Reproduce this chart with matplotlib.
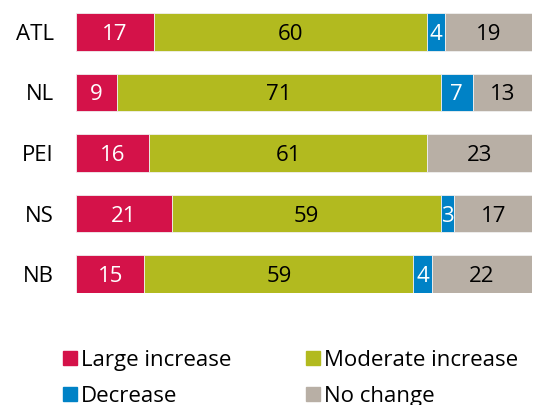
import matplotlib.pyplot as plt
from matplotlib.patches import Rectangle

regions = ["ATL", "NL", "PEI", "NS", "NB"]
series = ["Large increase", "Moderate increase", "Decrease", "No change"]
large_increase = [17, 9, 16, 21, 15]
moderate_increase = [60, 71, 61, 59, 59]
decrease = [4, 7, 0, 3, 4]
no_change = [19, 13, 23, 17, 22]

colors = ["#D41249", "#B2BA1F", "#0082C6", "#B8AFA5"]
text_colors = ["white", "black", "white", "black"]
FONT_SIZE = 16

plt.rcParams["font.family"] = ["Open Sans", "DejaVu Sans"]

fig = plt.figure(figsize=(5.53, 4.05), dpi=100)
ax = fig.add_axes([76 / 553, (405 - 293) / 405, 456 / 553, 280 / 405])

bar_h = 0.627
left = [0] * len(regions)
for name, vals, col, tcol in zip(series, [large_increase, moderate_increase, decrease, no_change], colors, text_colors):
    ax.barh(range(len(regions)), vals, left=left, height=bar_h, color=col,
            edgecolor="#f0f0f0", linewidth=0.6, label=name)
    for i, v in enumerate(vals):
        if v > 0:
            ax.text(left[i] + v / 2, i, str(v), ha="center", va="center_baseline",
                    color=tcol, fontsize=FONT_SIZE)
    left = [l + v for l, v in zip(left, vals)]

ax.set_xlim(0, 100)
ax.set_ylim(len(regions) - 1 + bar_h / 2, -bar_h / 2)
ax.set_yticks(range(len(regions)))
ax.set_yticklabels(regions, fontsize=FONT_SIZE)
ax.tick_params(axis="y", length=0, pad=16)
ax.set_xticks([])
for s in ax.spines.values():
    s.set_visible(False)

# legend, drawn by hand
legend_pos = [(63, 358), (306, 358), (63, 394), (306, 394)]
for name, col, (px, py) in zip(series, colors, legend_pos):
    fig.patches.append(Rectangle((px / 553, (405 - py - 7) / 405), 14 / 553, 14 / 405,
                                 transform=fig.transFigure, color=col))
    fig.text((px + 18) / 553, (405 - py) / 405, name, fontsize=FONT_SIZE, va="center_baseline")

fig.savefig("out.png")
